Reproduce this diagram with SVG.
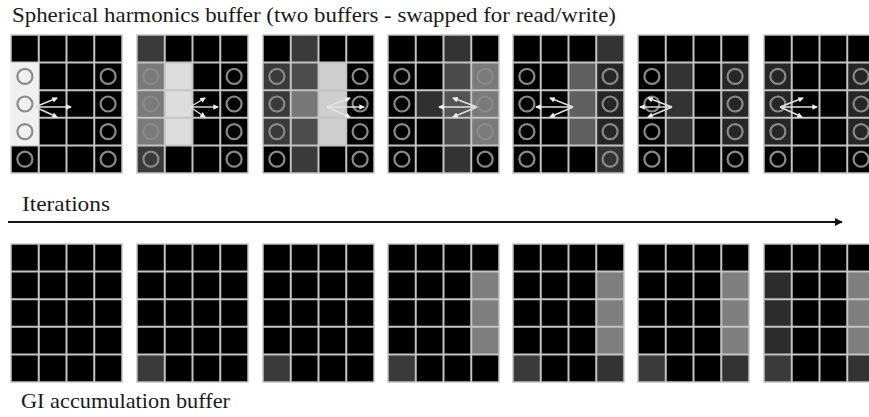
<svg xmlns="http://www.w3.org/2000/svg" xmlns:xlink="http://www.w3.org/1999/xlink" width="869" height="417" viewBox="0 0 869 417">
  <style>
    .label { font-family: "Liberation Serif", "Times New Roman", serif; font-size: 22px; fill: #1a1a1a; }
    .bg { fill: #000000; }
    .gl { stroke: #c4c4c4; stroke-width: 2; fill: none; }
    .probe { fill: none; stroke: #8a8a8a; stroke-width: 2.2; }
    .ray { stroke: #e2e2e2; stroke-width: 1.4; fill: none; marker-end: url(#tip); }
    .axis { stroke: #111111; stroke-width: 2; fill: none; marker-end: url(#axisTip); }
  </style>
  <defs>
    <marker id="tip" viewBox="0 0 6 6" refX="5" refY="3" markerWidth="4" markerHeight="4" orient="auto" markerUnits="strokeWidth">
      <path d="M0,0 L6,3 L0,6 z" fill="#f0f0f0"/>
    </marker>
    <marker id="axisTip" viewBox="0 0 10 10" refX="9" refY="5" markerWidth="4" markerHeight="4" orient="auto" markerUnits="strokeWidth">
      <path d="M0,0 L10,5 L0,10 z" fill="#111111"/>
    </marker>
    <!-- 4x5 cell grid lines, 111 x 138 -->
    <g id="lines" class="gl">
      <rect x="0" y="0" width="111" height="138" stroke-width="1.5"/>
      <path d="M27.75,0V138M55.5,0V138M83.25,0V138M0,27.6H111M0,55.2H111M0,82.8H111M0,110.4H111"/>
    </g>
    <!-- probe rings in column 0 and column 3, rows 1-4 -->
    <g id="probes" class="probe">
      <circle cx="13.9" cy="41.4" r="7.5"/>
      <circle cx="13.9" cy="69" r="7.5"/>
      <circle cx="13.9" cy="96.6" r="7.5"/>
      <circle cx="13.9" cy="124.2" r="7.5"/>
      <circle cx="97.1" cy="41.4" r="7.5"/>
      <circle cx="97.1" cy="69" r="7.5"/>
      <circle cx="97.1" cy="96.6" r="7.5"/>
      <circle cx="97.1" cy="124.2" r="7.5"/>
    </g>
  </defs>

  <rect width="869" height="417" fill="#ffffff"/>

  <text class="label" x="12" y="22" textLength="604" lengthAdjust="spacingAndGlyphs">Spherical harmonics buffer (two buffers - swapped for read/write)</text>
  <text class="label" x="22" y="211" textLength="88" lengthAdjust="spacingAndGlyphs">Iterations</text>
  <text class="label" x="21" y="408" textLength="209" lengthAdjust="spacingAndGlyphs">GI accumulation buffer</text>

  <!-- Spherical harmonics buffer, one grid per iteration -->
  <g id="sh1" transform="translate(11,35)">
    <rect class="bg" width="111" height="138"/>
    <use href="#lines"/>
    <rect x="-1" y="27.6" width="28.75" height="82.8" fill="#f0f0f0"/>
    <use href="#probes"/>
  </g>
  <g id="sh2" transform="translate(137,35)">
    <rect class="bg" width="111" height="138"/>
    <rect x="0" y="0" width="27.75" height="27.6" fill="#3a3a3a"/>
    <rect x="0" y="27.6" width="27.75" height="82.8" fill="#7a7a7a"/>
    <rect x="0" y="110.4" width="27.75" height="27.6" fill="#3a3a3a"/>
    <rect x="27.75" y="27.6" width="27.75" height="82.8" fill="#dcdcdc"/>
    <use href="#lines"/>
    <use href="#probes"/>
  </g>
  <g id="sh3" transform="translate(263,35)">
    <rect class="bg" width="111" height="138"/>
    <rect x="0" y="27.6" width="27.75" height="82.8" fill="#3a3a3a"/>
    <rect x="27.75" y="0" width="27.75" height="27.6" fill="#3a3a3a"/>
    <rect x="27.75" y="27.6" width="27.75" height="27.6" fill="#4c4c4c"/>
    <rect x="27.75" y="55.2" width="27.75" height="27.6" fill="#787878"/>
    <rect x="27.75" y="82.8" width="27.75" height="27.6" fill="#4c4c4c"/>
    <rect x="27.75" y="110.4" width="27.75" height="27.6" fill="#3a3a3a"/>
    <rect x="55.5" y="27.6" width="27.75" height="82.8" fill="#cfcfcf"/>
    <use href="#lines"/>
    <use href="#probes"/>
  </g>
  <g id="sh4" transform="translate(388,35)">
    <rect class="bg" width="111" height="138"/>
    <rect x="27.75" y="55.2" width="27.75" height="27.6" fill="#303030"/>
    <rect x="55.5" y="0" width="27.75" height="27.6" fill="#333333"/>
    <rect x="55.5" y="27.6" width="27.75" height="27.6" fill="#4a4a4a"/>
    <rect x="55.5" y="55.2" width="27.75" height="27.6" fill="#555555"/>
    <rect x="55.5" y="82.8" width="27.75" height="27.6" fill="#4a4a4a"/>
    <rect x="55.5" y="110.4" width="27.75" height="27.6" fill="#333333"/>
    <rect x="83.25" y="27.6" width="27.75" height="82.8" fill="#7a7a7a"/>
    <use href="#lines"/>
    <use href="#probes"/>
  </g>
  <g id="sh5" transform="translate(513,35)">
    <rect class="bg" width="111" height="138"/>
    <rect x="55.5" y="27.6" width="27.75" height="82.8" fill="#5f5f5f"/>
    <rect x="83.25" y="0" width="27.75" height="27.6" fill="#333333"/>
    <rect x="83.25" y="27.6" width="27.75" height="82.8" fill="#262626"/>
    <rect x="83.25" y="110.4" width="27.75" height="27.6" fill="#333333"/>
    <use href="#lines"/>
    <use href="#probes"/>
  </g>
  <g id="sh6" transform="translate(638,35)">
    <rect class="bg" width="111" height="138"/>
    <rect x="27.75" y="27.6" width="27.75" height="82.8" fill="#333333"/>
    <rect x="83.25" y="27.6" width="27.75" height="82.8" fill="#262626"/>
    <use href="#lines"/>
    <use href="#probes"/>
  </g>
  <g id="sh7" transform="translate(764,35)">
    <rect class="bg" width="111" height="138"/>
    <rect x="0" y="27.6" width="27.75" height="82.8" fill="#262626"/>
    <rect x="83.25" y="27.6" width="27.75" height="82.8" fill="#262626"/>
    <use href="#lines"/>
    <use href="#probes"/>
  </g>

  <!-- GI accumulation buffer, one grid per iteration -->
  <g id="gi1" transform="translate(11,244)">
    <rect class="bg" width="111" height="138"/>
    <use href="#lines"/>
  </g>
  <g id="gi2" transform="translate(137,244)">
    <rect class="bg" width="111" height="138"/>
    <rect x="0" y="110.4" width="27.75" height="27.6" fill="#3a3a3a"/>
    <use href="#lines"/>
  </g>
  <g id="gi3" transform="translate(263,244)">
    <rect class="bg" width="111" height="138"/>
    <rect x="0" y="110.4" width="27.75" height="27.6" fill="#3a3a3a"/>
    <use href="#lines"/>
  </g>
  <g id="gi4" transform="translate(388,244)">
    <rect class="bg" width="111" height="138"/>
    <rect x="0" y="110.4" width="27.75" height="27.6" fill="#3a3a3a"/>
    <rect x="83.25" y="27.6" width="27.75" height="82.8" fill="#7f7f7f"/>
    <use href="#lines"/>
  </g>
  <g id="gi5" transform="translate(513,244)">
    <rect class="bg" width="111" height="138"/>
    <rect x="0" y="110.4" width="27.75" height="27.6" fill="#3a3a3a"/>
    <rect x="83.25" y="27.6" width="27.75" height="82.8" fill="#7f7f7f"/>
    <rect x="83.25" y="110.4" width="27.75" height="27.6" fill="#333333"/>
    <use href="#lines"/>
  </g>
  <g id="gi6" transform="translate(638,244)">
    <rect class="bg" width="111" height="138"/>
    <rect x="0" y="110.4" width="27.75" height="27.6" fill="#3a3a3a"/>
    <rect x="83.25" y="27.6" width="27.75" height="82.8" fill="#7f7f7f"/>
    <rect x="83.25" y="110.4" width="27.75" height="27.6" fill="#333333"/>
    <use href="#lines"/>
  </g>
  <g id="gi7" transform="translate(764,244)">
    <rect class="bg" width="111" height="138"/>
    <rect x="0" y="27.6" width="27.75" height="82.8" fill="#2c2c2c"/>
    <rect x="0" y="110.4" width="27.75" height="27.6" fill="#3a3a3a"/>
    <rect x="83.25" y="27.6" width="27.75" height="82.8" fill="#7f7f7f"/>
    <rect x="83.25" y="110.4" width="27.75" height="27.6" fill="#333333"/>
    <use href="#lines"/>
  </g>

  <!-- connectors: propagation rays and the iteration axis -->
  <g id="connectors">
    <path class="ray" d="M35,107 L57,98"/>
    <path class="ray" d="M35,107 L71,107"/>
    <path class="ray" d="M35,107 L57,117"/>

    <path class="ray" d="M190,107 L205,98"/>
    <path class="ray" d="M190,107 L218,107"/>
    <path class="ray" d="M190,107 L205,117"/>

    <path class="ray" d="M327,107 L350,98"/>
    <path class="ray" d="M327,107 L364,107"/>
    <path class="ray" d="M327,107 L350,117"/>

    <path class="ray" d="M477,107 L453,98"/>
    <path class="ray" d="M477,107 L439,107"/>
    <path class="ray" d="M477,107 L453,117"/>

    <path class="ray" d="M573,107 L550,98"/>
    <path class="ray" d="M573,107 L536,107"/>
    <path class="ray" d="M573,107 L550,117"/>

    <path class="ray" d="M672,107 L648,98"/>
    <path class="ray" d="M672,107 L640,107"/>
    <path class="ray" d="M672,107 L648,117"/>

    <path class="ray" d="M780,107 L803,98"/>
    <path class="ray" d="M780,107 L817,107"/>
    <path class="ray" d="M780,107 L802,117"/>

    <path class="axis" d="M8,222 L842,222"/>
  </g>
</svg>
